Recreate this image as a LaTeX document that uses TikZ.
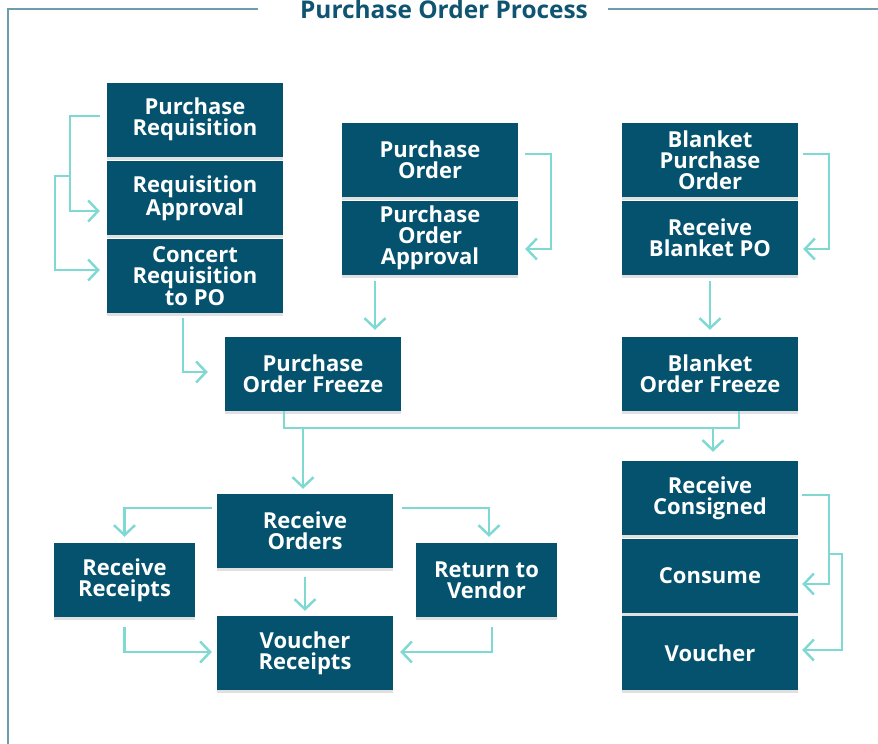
\documentclass[tikz,border=0pt]{standalone}
\usepackage{fontspec}
\setmainfont{Open Sans}
\usetikzlibrary{arrows.meta,calc,shadows}
\definecolor{boxteal}{HTML}{04526E}
\definecolor{flowaqua}{HTML}{7DD9D2}
\definecolor{titleteal}{HTML}{0F5470}
\definecolor{framegray}{HTML}{6C9DAA}
\tikzset{
  stepbox/.style={fill=boxteal, text=white, inner sep=0pt, align=center,
    minimum width=176, minimum height=74,
    font=\fontsize{22}{21}\selectfont\bfseries,
    drop shadow={shadow xshift=0pt, shadow yshift=-3pt, opacity=.12, fill=black}},
  smallbox/.style={stepbox, minimum width=141},
  flow/.style={draw=flowaqua, line width=2.4pt,
    -{Straight Barb[length=10pt, width=21pt, line width=2.4pt]}},
  link/.style={draw=flowaqua, line width=2.4pt}
}
\begin{document}
\begin{tikzpicture}[x=1pt, y=-1pt]
  \useasboundingbox (0, 0) rectangle (878, 744);
  \draw[framegray, line width=1.5pt] (258, 9) -- (8, 9) -- (8, 750);
  \draw[framegray, line width=1.5pt] (608, 9) -- (880, 9);
  \node[anchor=base, text=titleteal, font=\fontsize{24.4}{24}\selectfont\bfseries]
    (title) at (444, 18) {Purchase Order Process};

  \node[stepbox] (preq) at (195, 119.5) {Purchase\\Requisition};
  \node[stepbox] (rapp) at (195, 198) {Requisition\\Approval};
  \node[stepbox] (conc) at (195, 276) {Concert\\Requisition\\to PO};
  \node[stepbox] (po)   at (430, 160) {Purchase\\Order};
  \node[stepbox] (poa)  at (430, 238) {Purchase\\Order\\Approval};
  \node[stepbox] (bpo)  at (710, 160) {Blanket\\Purchase\\Order};
  \node[stepbox] (rbpo) at (710, 238) {Receive\\Blanket PO};
  \node[stepbox] (pof)  at (313, 374) {Purchase\\Order Freeze};
  \node[stepbox] (bof)  at (710, 374) {Blanket\\Order Freeze};
  \node[stepbox] (ro)   at (305, 531) {Receive\\Orders};
  \node[smallbox] (rr)  at (124.5, 580) {Receive\\Receipts};
  \node[smallbox] (rtv) at (486.5, 580) {Return to\\Vendor};
  \node[stepbox] (vr)   at (305, 653) {Voucher\\Receipts};
  \node[stepbox] (rc)   at (710, 498) {Receive\\Consigned};
  \node[stepbox] (cons) at (710, 576) {Consume};
  \node[stepbox] (vou)  at (710, 653) {Voucher};

  % requisition loop
  \draw[flow] ($(preq.west)+(-7,-3.5)$) -| ($(rapp.west)+(-37,13)$)
    -- ($(rapp.west)+(-7,13)$);
  \coordinate (split) at ($(preq.west)+(-37,56.5)$);
  \draw[flow] (split) -| ($(conc.west)+(-52,-6)$) -- ($(conc.west)+(-7,-6)$);
  \draw[flow] ($(po.east)+(7,-6)$) -| ($(poa.east)+(33,11)$) -- ($(poa.east)+(7,11)$);
  \draw[flow] ($(bpo.east)+(5,-6)$) -| ($(rbpo.east)+(31,11)$) -- ($(rbpo.east)+(5,11)$);
  \draw[flow] ($(conc.south)+(-12,5)$) |- ($(pof.west)+(-17,-2)$);
  \draw[flow] ($(poa.south)+(-55,6)$) -- ($(pof.north)+(62,-7)$);
  \draw[flow] ($(rbpo.south)+(0,6)$) -- ($(bof.north)+(0,-7)$);

  % freeze bus
  \coordinate (bus) at ($(pof.south)+(0,17)$);
  \draw[link] ($(pof.south)+(-29,0)$) |- ($(bof.south)+(29,17)$) -- ($(bof.south)+(29,0)$);
  \draw[flow] ($(ro.north |- bus)+(-2,0)$) -- ($(ro.north)+(-2,-5)$);
  \draw[flow] ($(rc.north |- bus)+(3,0)$) -- ($(rc.north)+(3,-9)$);

  % receiving
  \draw[flow] ($(ro.west)+(-5,-23)$) -| ($(rr.north)+(0,-6)$);
  \draw[flow] ($(ro.east)+(9,-23)$) -| ($(rtv.north)+(2.5,-6)$);
  \draw[flow] ($(ro.south)+(0,9)$) -- ($(vr.north)+(0,-5)$);
  \draw[flow] ($(rr.south)+(0,10)$) |- ($(vr.west)+(-5,-1)$);
  \draw[flow] ($(rtv.south)+(5.5,10)$) |- ($(vr.east)+(7,-1)$);

  % consigned
  \draw[flow] ($(rc.east)+(4,-3)$) -| ($(cons.east)+(31,8)$) -- ($(cons.east)+(4,8)$);
  \coordinate (split2) at ($(rc.east)+(31,56)$);
  \draw[flow] (split2) -| ($(vou.east)+(44,-3)$) -- ($(vou.east)+(4,-3)$);
\end{tikzpicture}
\end{document}
